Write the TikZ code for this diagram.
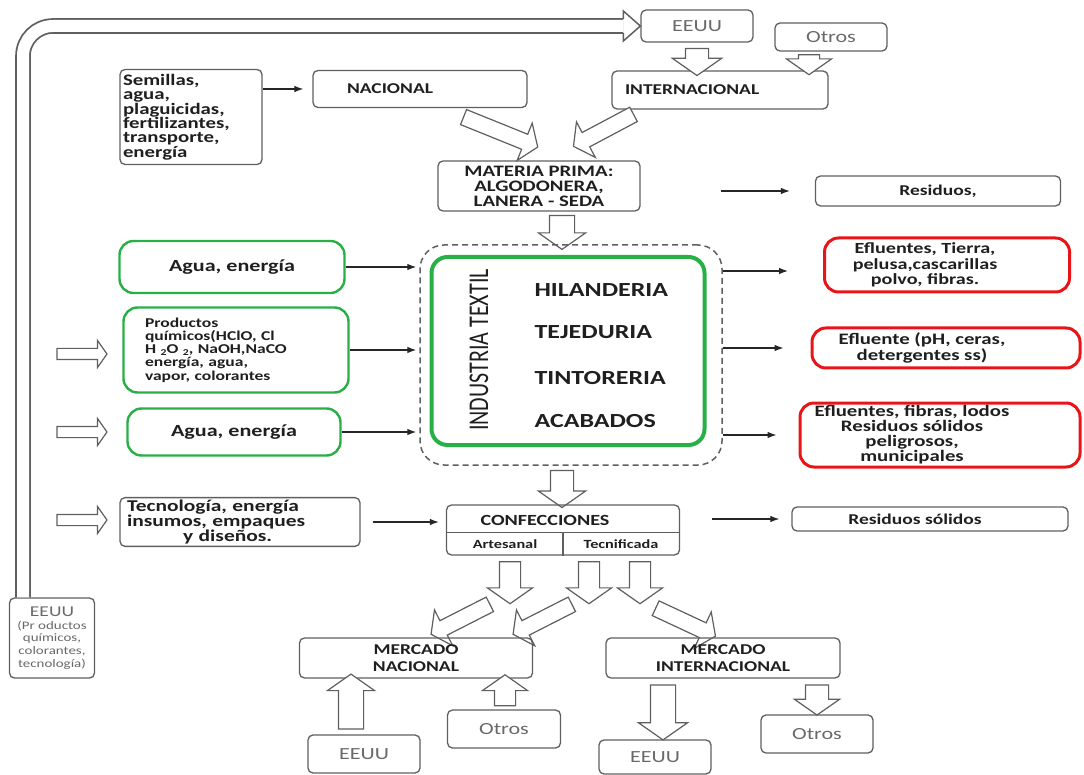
\documentclass[tikz,border=0pt]{standalone}
\usepackage{fontspec}
\setmainfont{Carlito}[FakeStretch=1.3]
\newfontfamily\uprightfont{Carlito}
\usetikzlibrary{arrows.meta}
\usetikzlibrary{shapes.arrows}
\usetikzlibrary{positioning}

\definecolor{boxgreen}{RGB}{40,175,70}
\definecolor{boxred}{RGB}{232,20,24}
\definecolor{linegray}{RGB}{95,95,95}
\definecolor{txtgray}{RGB}{105,105,105}

\newcommand\lowsub[1]{\raisebox{-2pt}{\fontsize{9}{9}\selectfont #1}}

\tikzset{box/.style = {draw=linegray, line width=1.3pt, rounded corners=5pt,
                       inner sep=2pt, align=center, text=black!88,
                       font=\bfseries\fontsize{15}{15}\selectfont},
         greenbox/.style = {box, draw=boxgreen, line width=2.4pt, rounded corners=14pt},
         redbox/.style = {box, draw=boxred, line width=3pt, rounded corners=14pt},
         redtext/.style = {align=center, text=black!88,
                           font=\bfseries\fontsize{15.5}{15.5}\selectfont},
         graybox/.style = {box, text=txtgray, font=\fontsize{17}{17}\selectfont},
         flow/.style = {-{Latex[length=9pt, width=6.5pt]}, line width=1.1pt, draw=black!85},
         fat/.style n args = {3}{single arrow, draw=linegray, fill=white,
                                 line width=1.2pt, inner xsep=0pt, inner ysep=#2,
                                 minimum height=#1,
                                 single arrow head extend=#3,
                                 single arrow tip angle=110},
         stage/.style = {anchor=west, text=black!88,
                         font=\bfseries\fontsize{20}{20}\selectfont}}

\begin{document}
\begin{tikzpicture}[x=1pt, y=-1pt]
  \useasboundingbox (0,0) rectangle (1084,775);

  % top: origin of the raw material
  \node[graybox, minimum width=112, minimum height=32] (eeuuT) at (697,26) {EEUU};
  \node[graybox, minimum width=112, minimum height=28] (otrosT) at (831,37) {Otros};
  \node[box, minimum width=216, minimum height=38, text width=190, align=left] (intl) at (720,90) {INTERNACIONAL};
  \node[box, minimum width=214, minimum height=37, text width=190, align=left] (nac) at (420,89) {\hspace*{22pt}NACIONAL};
  \node[box, minimum width=142, minimum height=95, text width=136, align=left,
        font=\bfseries\fontsize{16}{14.4}\selectfont] (sem) at (191,117)
       {Semillas,\\agua,\\plaguicidas,\\fertilizantes,\\transporte,\\energía};
  \node[box, minimum width=202, minimum height=50, font=\bfseries\fontsize{16}{15}\selectfont] (mat) at (539,186)
       {MATERIA PRIMA:\\ALGODONERA,\\LANERA - SEDA};
  \node[box, minimum width=245, minimum height=30] (res1) at (938,191) {Residuos,};

  \node[fat={27}{11}{13}, rotate=-90] (f1) at (697,58) {};
  \node[fat={20}{10}{12}, rotate=-90] (f2) at (809,61) {};
  \node[fat={80}{7.5}{12}, rotate=-22] (f3) at (498,131) {};
  \node[fat={68}{7.5}{12}, rotate=208] (f4) at (606,129) {};
  \node[fat={34}{12}{11}, rotate=-90] (f5) at (562,228) {};

  \draw[flow, shorten >=9pt] (sem.east |- nac.west) -- (nac.west);
  \draw[flow, shorten <=80pt, shorten >=25pt] (mat.east |- res1.west) -- (res1.west);

  % textile industry
  \node[draw=linegray, line width=1.5pt, dashed, dash pattern=on 6pt off 4pt,
        rounded corners=24pt, minimum width=302, minimum height=220] (dash) at (571,355) {};
  \node[draw=boxgreen, line width=4pt, rounded corners=16pt,
        minimum width=273, minimum height=188] (ind) at (568,351) {};
  \node[rotate=90, yscale=1.3, text=black!88, font=\uprightfont\fontsize{22}{22}\selectfont] (indlbl) at (479,350) {INDUSTRIA TEXTIL};
  \node[stage] (hil) at (531,290) {HILANDERIA};
  \node[stage] (tej) at (531,332) {TEJEDURIA};
  \node[stage] (tin) at (531,378) {TINTORERIA};
  \node[stage] (aca) at (531,421) {ACABADOS};

  \node[greenbox, minimum width=225, minimum height=52, font=\bfseries\fontsize{17}{17}\selectfont] (g1) at (232,267) {Agua, energía};
  \node[greenbox, minimum width=225, minimum height=85, text width=182, align=left,
        font=\bfseries\fontsize{13.5}{13.2}\selectfont] (g2) at (236,350)
       {Productos\\químicos(HClO, Cl\\H \lowsub{2}O \lowsub{2}, NaOH,NaCO\\energía, agua,\\ vapor, colorantes};
  \node[greenbox, minimum width=213, minimum height=47, font=\bfseries\fontsize{17}{17}\selectfont] (g3) at (234,432) {Agua, energía};

  \node[fat={50}{5}{8}] (f6) at (80,354) {};
  \node[fat={50}{5}{8}] (f7) at (80,432) {};

  \draw[flow, shorten >=3pt] (g1.east) -- (g1.east -| dash.west);
  \draw[flow, shorten >=3pt] (g2.east) -- (g2.east -| dash.west);
  \draw[flow, shorten >=3pt] (g3.east) -- (g3.east -| dash.west);

  \node[redbox, minimum width=245, minimum height=54] (red1) at (947,265) {};
  \node[redtext] (red1t) at ([xshift=-22pt]red1.center) {Efluentes, Tierra,\\pelusa,cascarillas\\polvo, fibras.};
  \node[redbox, minimum width=268, minimum height=40] (red2) at (946,348) {};
  \node[redtext, font=\bfseries\fontsize{16}{16}\selectfont] (red2t) at ([xshift=-24pt]red2.center) {Efluente (pH, ceras,\\detergentes ss)};
  \node[redbox, minimum width=280, minimum height=64] (red3) at (940,435) {};
  \node[redtext, font=\bfseries\fontsize{16}{15}\selectfont] (red3t) at ([xshift=-28pt]red3.center)
       {Efluentes, fibras, lodos\\Residuos sólidos\\peligrosos,\\municipales};

  \draw[flow, shorten >=35pt] (dash.east |- 0,271) -- (red1.west |- 0,271);
  \draw[flow, shorten >=27pt] (dash.east |- red2.west) -- (red2.west);
  \draw[flow, shorten >=22pt] (dash.east |- red3.west) -- (red3.west);

  % garments
  \node[fat={37}{11}{12}, rotate=-90] (f8) at (562,485) {};
  \node[box, minimum width=240, minimum height=48, text width=226, align=left,
        font=\bfseries\fontsize{16.5}{14}\selectfont] (tec) at (240,522)
       {Tecnología, energía\\insumos, empaques\\\hspace*{56pt}y diseños.};
  \node[fat={50}{5}{8}] (f9) at (80,520) {};
  \node[box, minimum width=233, minimum height=50] (conf) at (563,530) {};
  \draw[linegray, line width=1.2pt] ([yshift=-28pt]conf.north west) -- ([yshift=-28pt]conf.north east);
  \draw[linegray, line width=1.2pt] ([yshift=-28pt]conf.north) -- (conf.south);
  \node[text=black!88, font=\bfseries\fontsize{15.5}{15.5}\selectfont] (conft) at (545,520) {CONFECCIONES};
  \node[text=black!88, font=\bfseries\fontsize{12.5}{12.5}\selectfont] (art) at (505,544) {Artesanal};
  \node[text=black!88, font=\bfseries\fontsize{12.5}{12.5}\selectfont] (tcf) at (621,544) {Tecnificada};
  \node[box, minimum width=276, minimum height=24] (res2) at (930,519) {\hspace*{-30pt}Residuos sólidos};

  \draw[flow, shorten <=12pt, shorten >=7pt] (tec.east) -- (tec.east -| conf.west);
  \draw[flow, shorten <=32pt, shorten >=12pt] (res2.west -| conf.east) -- (res2.west);

  % markets
  \node[fat={42}{10}{12}, rotate=-90] (f10) at (510,579) {};
  \node[fat={42}{10}{12}, rotate=-90] (f11) at (589,579) {};
  \node[fat={42}{10}{12}, rotate=-90] (f12) at (640,579) {};
  \node[fat={66}{7.5}{12}, rotate=207] (f13) at (463,618) {};
  \node[fat={66}{7.5}{12}, rotate=207] (f14) at (545,618) {};
  \node[fat={66}{7.5}{12}, rotate=-25] (f15) at (683,621) {};

  \node[box, minimum width=233, minimum height=40, font=\bfseries\fontsize{15}{17}\selectfont] (mnac) at (416,658) {MERCADO\\NACIONAL};
  \node[box, minimum width=234, minimum height=40, font=\bfseries\fontsize{15}{17}\selectfont] (mint) at (723,658) {MERCADO\\INTERNACIONAL};
  \node[graybox, minimum width=112, minimum height=38] (eeuuN) at (364,754) {EEUU};
  \node[graybox, minimum width=113, minimum height=38] (otrosN) at (504,729) {Otros};
  \node[graybox, minimum width=112, minimum height=34] (eeuuI) at (655,757) {EEUU};
  \node[graybox, minimum width=112, minimum height=38] (otrosI) at (817,734) {Otros};

  \node[fat={55}{12}{11}, rotate=90] (f16) at (351,706) {};
  \node[fat={31}{10}{12}, rotate=90] (f17) at (505,694) {};
  \node[fat={55}{12}{12}, rotate=-90] (f18) at (663,708) {};
  \node[fat={30}{11}{11}, rotate=-90] (f19) at (817,696) {};

  % imports loop
  \node[graybox, minimum width=85, minimum height=80, font=\fontsize{11.5}{12.7}\selectfont] (eeuuL) at (52,638)
       {\fontsize{15}{17}\selectfont EEUU\\(Pr oductos\\químicos,\\colorantes,\\tecnología)};
  \draw[draw=linegray, line width=1.8pt, double=white, double distance=12pt, rounded corners=30pt]
       ([xshift=-29pt]eeuuL.north) |- ([xshift=-17pt]eeuuT.west);
  \fill[white] ([xshift=-17pt,yshift=15pt]eeuuT.west) -- (eeuuT.west) -- ([xshift=-17pt,yshift=-15pt]eeuuT.west) -- cycle;
  \draw[linegray, line width=1.5pt] ([xshift=-17pt,yshift=7pt]eeuuT.west) -- ([xshift=-17pt,yshift=15pt]eeuuT.west)
       -- (eeuuT.west) -- ([xshift=-17pt,yshift=-15pt]eeuuT.west) -- ([xshift=-17pt,yshift=-7pt]eeuuT.west);
\end{tikzpicture}
\end{document}
